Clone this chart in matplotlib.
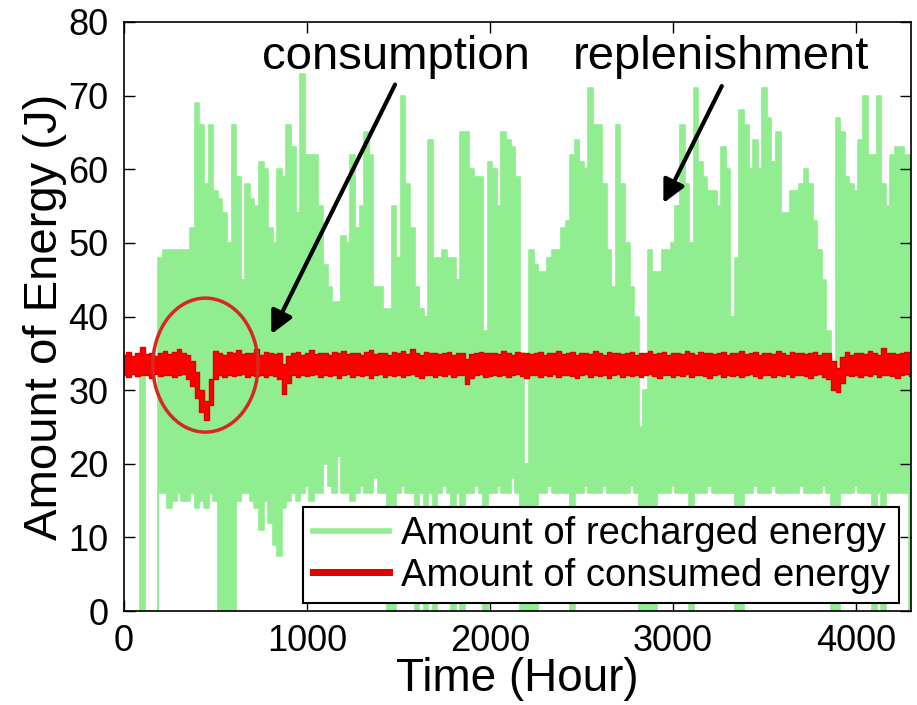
import matplotlib
matplotlib.use("Agg")
import matplotlib.pyplot as plt
from matplotlib.patches import Ellipse
import numpy as np

plt.rcParams['font.family'] = ['Liberation Sans', 'DejaVu Sans']

# hours are sampled every 25 h, 0 .. 4300
step_hours = 25

# recharged energy: highest / lowest value seen in each 25 h slot (J)
recharge_max = [
    0, 0, 0, 0, 35, 0, 0, 0, 48, 49,
    49, 49, 49, 49, 49, 52, 69, 66, 58, 66,
    57, 56, 54, 50, 66, 59, 45, 58, 56, 55,
    61, 60, 52, 50, 60, 59, 66, 63, 54, 73,
    62, 62, 62, 55, 47, 44, 42, 42, 51, 50,
    62, 52, 55, 65, 62, 44, 44, 41, 41, 55,
    48, 70, 58, 52, 44, 41, 40, 64, 48, 48,
    49, 48, 48, 45, 65, 65, 60, 59, 59, 38,
    61, 60, 55, 65, 64, 63, 59, 35, 20, 49,
    47, 46, 46, 48, 49, 49, 52, 53, 62, 64,
    61, 60, 71, 66, 66, 58, 49, 44, 66, 58,
    50, 44, 40, 25, 30, 49, 46, 46, 49, 49,
    50, 55, 66, 58, 50, 71, 61, 59, 57, 57,
    55, 63, 60, 40, 48, 68, 66, 60, 64, 60,
    71, 67, 61, 65, 54, 54, 57, 57, 58, 60,
    58, 53, 49, 45, 38, 30, 67, 65, 59, 58,
    57, 64, 70, 62, 62, 70, 58, 55, 62, 63,
    63, 62, 62,
]
recharge_min = [
    0, 0, 0, 0, 0, 0, 0, 0, 16, 16,
    14, 15, 16, 15, 15, 16, 14, 15, 14, 16,
    15, 0, 0, 0, 0, 15, 16, 16, 15, 14,
    11, 15, 12, 9, 7.5, 14, 15, 16, 15, 16,
    17, 15, 16, 16, 20, 17, 16, 21, 16, 16,
    15, 16, 17, 16, 16, 18, 16, 16, 0, 0,
    16, 17, 16, 16, 0, 16, 0, 16, 0, 16,
    17, 16, 0, 16, 0, 16, 16, 17, 16, 0,
    16, 16, 17, 16, 16, 18, 16, 0, 0, 0,
    0, 16, 16, 17, 16, 16, 16, 16, 0, 16,
    16, 17, 16, 16, 16, 17, 16, 16, 16, 16,
    16, 17, 16, 0, 0, 0, 0, 16, 16, 16,
    17, 16, 16, 16, 0, 16, 16, 16, 17, 16,
    16, 16, 16, 16, 0, 0, 16, 16, 17, 16,
    16, 16, 17, 16, 16, 16, 16, 16, 17, 16,
    16, 16, 16, 17, 16, 0, 0, 16, 16, 16,
    17, 16, 16, 16, 0, 16, 0, 16, 16, 16,
    16, 16, 0,
]

# consumed energy: upper / lower edge of the red band in each 25 h slot (J)
consume_max = [
    34.8, 35.2, 34.6, 35.0, 35.8, 34.9, 35.1, 34.7, 35.0, 35.3,
    34.9, 35.2, 35.6, 35.0, 34.8, 34.0, 32.5, 30.0, 28.5, 31.5,
    35.3, 35.0, 34.8, 35.2, 35.0, 35.4, 34.9, 35.1, 35.0, 35.6,
    34.8, 35.2, 35.0, 34.9, 35.1, 33.5, 34.6, 35.0, 35.2, 34.8,
    35.0, 35.4, 34.9, 35.1, 35.0, 34.8, 35.2, 35.0, 35.3, 34.9,
    35.0, 35.1, 34.8, 35.2, 35.5, 34.9, 35.0, 35.1, 34.8, 35.2,
    35.0, 35.3, 34.9, 35.6, 35.0, 34.8, 35.2, 35.0, 35.1, 34.9,
    35.0, 35.2, 34.8, 35.1, 35.0, 34.2, 34.9, 35.0, 35.2, 35.0,
    35.0, 35.1, 34.9, 35.3, 35.0, 34.8, 35.2, 35.0, 35.1, 34.9,
    35.0, 35.2, 34.8, 35.1, 35.0, 35.3, 34.9, 35.0, 35.2, 34.8,
    35.0, 35.1, 34.9, 35.3, 35.0, 34.8, 35.2, 35.0, 35.1, 34.9,
    35.0, 35.2, 34.8, 35.1, 35.0, 35.3, 34.9, 35.0, 35.2, 34.8,
    35.0, 35.1, 34.9, 35.3, 35.0, 34.8, 35.2, 35.0, 35.1, 34.9,
    35.0, 35.2, 34.8, 35.1, 35.0, 35.3, 34.9, 35.0, 35.2, 34.8,
    35.0, 35.1, 34.9, 35.3, 35.0, 34.8, 35.2, 35.0, 35.1, 34.9,
    35.0, 35.2, 34.8, 35.1, 35.0, 34.0, 33.0, 34.5, 35.2, 34.8,
    35.0, 35.1, 34.9, 35.3, 35.0, 34.8, 35.7, 35.0, 35.1, 34.9,
    35.0, 35.2, 35.0,
]
consume_min = [
    32.0, 31.8, 32.2, 31.9, 32.1, 32.0, 31.7, 32.2, 31.9, 32.0,
    32.1, 31.8, 32.0, 32.2, 31.5, 30.5, 29.0, 27.0, 26.0, 28.0,
    31.5, 32.0, 31.8, 32.1, 31.9, 32.0, 32.2, 31.8, 32.0, 31.9,
    32.0, 31.8, 32.1, 31.9, 31.5, 29.5, 31.0, 32.0, 31.8, 32.1,
    31.9, 32.0, 32.2, 31.8, 32.0, 31.9, 32.1, 31.7, 32.0, 32.2,
    31.8, 32.0, 31.9, 32.1, 31.6, 32.0, 32.2, 31.8, 32.0, 31.9,
    32.1, 31.8, 32.0, 32.2, 31.9, 31.7, 32.0, 32.1, 31.8, 32.0,
    31.9, 32.2, 31.8, 32.0, 32.1, 30.8, 31.7, 32.0, 32.2, 31.8,
    31.9, 32.0, 31.9, 32.1, 31.8, 32.0, 32.2, 31.9, 31.7, 32.0,
    32.1, 31.8, 32.0, 31.9, 32.2, 31.8, 32.0, 32.1, 31.9, 31.6,
    32.0, 32.2, 31.8, 32.0, 31.9, 32.1, 31.7, 32.0, 32.2, 31.8,
    32.0, 31.9, 32.1, 31.8, 32.0, 32.2, 31.9, 31.7, 32.0, 32.1,
    31.8, 32.0, 31.9, 32.2, 31.8, 32.0, 32.1, 31.9, 31.7, 32.0,
    32.2, 31.8, 32.0, 31.9, 32.1, 31.8, 32.0, 32.2, 31.9, 31.7,
    32.0, 32.1, 31.8, 32.0, 31.9, 32.2, 31.8, 32.0, 32.1, 31.9,
    31.7, 32.0, 32.2, 31.8, 31.5, 30.0, 29.8, 31.0, 32.0, 31.9,
    32.1, 31.8, 32.0, 31.9, 32.2, 31.8, 32.0, 32.1, 31.9, 31.7,
    32.0, 32.2, 31.9,
]

x_ticks = [0, 1000, 2000, 3000, 4000]
y_ticks = [0, 10, 20, 30, 40, 50, 60, 70, 80]

green = '#90EE90'
red = '#FF0000'

hours = np.arange(len(recharge_max)) * step_hours

fig = plt.figure(figsize=(9.17, 7.05), dpi=100)
ax = fig.add_axes([0.1352, 0.1333, 0.8583, 0.8355])

# recharged energy band
ax.fill_between(hours, recharge_min, recharge_max, step='mid',
                color=green, lw=0)
ax.plot(hours, recharge_max, drawstyle='steps-mid', color=green, lw=1.2,
        label='Amount of recharged energy')
ax.plot(hours, recharge_min, drawstyle='steps-mid', color=green, lw=1.2)

# consumed energy band
ax.fill_between(hours, consume_min, consume_max, step='mid',
                color=red, lw=0, zorder=3)
ax.plot(hours, consume_max, drawstyle='steps-mid', color='#E00000', lw=1.0,
        zorder=3, label='Amount of consumed energy')
ax.plot(hours, consume_min, drawstyle='steps-mid', color='#E00000', lw=1.0,
        zorder=3)

# circle round the first dip
ax.add_patch(Ellipse((445, 33.4), 575, 18.2, fill=False, ec='#D42A1E',
                     lw=2.5, zorder=5))

ax.text(1486, 75.3, 'consumption', fontsize=34, ha='center', va='center')
ax.text(3262, 75.3, 'replenishment', fontsize=34, ha='center', va='center')
ax.annotate('', xy=(805, 37.6), xytext=(1481, 71.5),
            arrowprops=dict(arrowstyle='-|>', color='black', lw=3,
                            mutation_scale=34, shrinkA=0, shrinkB=0),
            zorder=6)
ax.annotate('', xy=(2947, 55.4), xytext=(3266, 71.3),
            arrowprops=dict(arrowstyle='-|>', color='black', lw=3,
                            mutation_scale=34, shrinkA=0, shrinkB=0),
            zorder=6)

ax.set_xlim(0, 4300)
ax.set_ylim(0, 80)
ax.set_xticks(x_ticks)
ax.set_yticks(y_ticks)
ax.tick_params(direction='in', top=True, right=True, length=8, width=1,
               labelsize=26)
ax.tick_params(axis='x', pad=9)
ax.tick_params(axis='y', pad=11)
for s in ax.spines.values():
    s.set_linewidth(1.2)
    s.set_zorder(7)
ax.set_xlabel('Time (Hour)', fontsize=33, labelpad=-1)
ax.set_ylabel('Amount of Energy (J)', fontsize=34, labelpad=1)

leg = ax.legend(loc='lower right', bbox_to_anchor=(0.985, 0.013),
                fontsize=27.5, fancybox=False, framealpha=1,
                edgecolor='black', handlelength=2.0, borderpad=0.25,
                labelspacing=0.15, handletextpad=0.3, borderaxespad=0)
leg.get_frame().set_linewidth(1.5)
leg.get_lines()[0].set_linewidth(4)
leg.get_lines()[1].set_linewidth(5)
leg.set_zorder(8)

fig.savefig('out.png', dpi=100)
